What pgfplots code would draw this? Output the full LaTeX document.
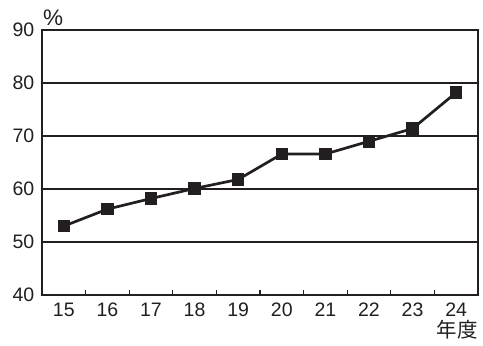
\documentclass[border=0pt]{standalone}
\usepackage{fontspec}
\setmainfont{Liberation Sans}
\newfontfamily\cjk{Noto Sans CJK JP}
\usepackage{pgfplots}
\pgfplotsset{compat=1.18}
\definecolor{ink}{HTML}{231F20}
\begin{document}
\fontsize{19.5}{22}\selectfont
\begin{tikzpicture}
\begin{axis}[
  scale only axis,
  width=436pt, height=265pt,
  xmin=14.5, xmax=24.5,
  ymin=40, ymax=90,
  xtick={15,...,24},
  minor xtick={15.5,16.5,...,23.5},
  ytick={40,50,...,90},
  major tick length=0pt,
  minor tick length=5pt,
  tick align=inside,
  xtick pos=bottom,
  ytick pos=left,
  ymajorgrids,
  major grid style={ink, line width=1.2pt},
  minor tick style={ink, line width=1.2pt},
  axis line style={ink, line width=1.6pt},
  tick label style={font=\fontsize{19.5}{22}\selectfont, text=ink},
  /pgf/number format/assume math mode=true,
  xticklabel style={yshift=-1pt},
  yticklabel style={xshift=-1pt},
  clip=false,
]
\path (rel axis cs:-0.0963,-0.1887) rectangle (rel axis cs:1.0115,1.1132);
\addplot[ink, line width=2.7pt, mark=square*, mark size=5.7pt, mark options={fill=ink, draw=ink, line width=0pt}]
coordinates {
(15,53.0) (16,56.2) (17,58.2) (18,60.1) (19,61.8) (20,66.6) (21,66.6) (22,69.0) (23,71.4) (24,78.2)
};
\node[anchor=south west, inner sep=0pt, text=ink] at (rel axis cs:0.002,1.015) {\fontsize{22.5}{24}\selectfont\%};
\node[anchor=north east, inner sep=0pt, text=ink] at (rel axis cs:1.0,-0.095) {\fontsize{20.5}{22}\selectfont\cjk 年度};
\end{axis}
\end{tikzpicture}
\end{document}
